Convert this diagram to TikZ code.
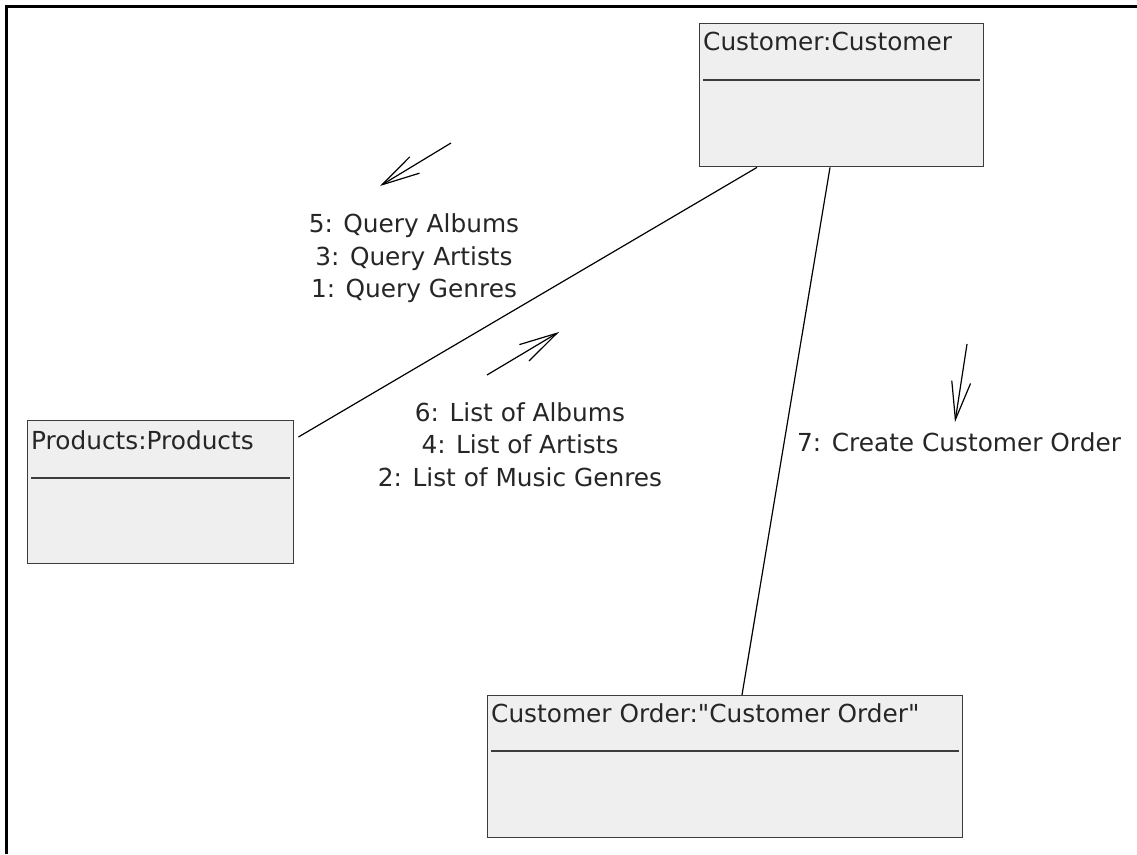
\documentclass[tikz,border=0pt]{standalone}
\usepackage{fontspec}
\newfontfamily\diafont{DejaVu Sans}
\usetikzlibrary{arrows.meta,calc}
\definecolor{boxfill}{HTML}{EFEFEF}
\definecolor{boxline}{HTML}{3C3C3C}
\tikzset{
  objbox/.style={draw=boxline, fill=boxfill, line width=1.4pt, rectangle, inner sep=0pt, anchor=north west},
  sepline/.style={draw=boxline, line width=1.4pt},
  ttl/.style={inner sep=0pt, anchor=base west, text=black!85, font=\diafont\fontsize{24.8}{30}\selectfont},
  msg/.style={inner sep=0pt, anchor=base, text=black!85, font=\diafont\fontsize{24.8}{30}\selectfont},
  msg7/.style={inner sep=0pt, anchor=base west, text=black!85, font=\diafont\fontsize{24.8}{30}\selectfont},
  link/.style={draw=black, line width=1.2pt},
  msgarrow/.style={draw=black, line width=1.2pt, -{Straight Barb[length=38pt,width=19pt,line width=1.2pt]}},
  frameline/.style={draw=black, line width=2.4pt}
}
\begin{document}
\begin{tikzpicture}[x=1pt,y=-1pt]
\useasboundingbox (0,0) rectangle (1137,854);
\fill[white] (0,0) rectangle (1137,854);
% frame
\coordinate (frTR) at (1137,6.5);
\coordinate (frTL) at (6.5,6.5);
\coordinate (frBL) at (6.5,854);
\draw[frameline] (frTR) -- (frTL) -- (frBL);

% objects
\node[objbox, minimum width=284pt, minimum height=143pt] (cust) at (699,23) {};
\node[ttl] (custT) at (703,50) {Customer:Customer};
\draw[sepline] ($(cust.north west)+(4,57)$) -- ($(cust.north east)+(-4,57)$);

\node[objbox, minimum width=266pt, minimum height=143pt] (prod) at (27,420) {};
\node[ttl] (prodT) at (31,449) {Products:Products};
\draw[sepline] ($(prod.north west)+(4,58)$) -- ($(prod.north east)+(-4,58)$);

\node[objbox, minimum width=475pt, minimum height=142pt] (ord) at (487,695) {};
\node[ttl] (ordT) at (491,722) {Customer Order:"Customer Order"};
\draw[sepline] ($(ord.north west)+(4,56)$) -- ($(ord.north east)+(-4,56)$);

% links
\coordinate (c1) at ($(cust.south west)+(58,0)$);
\coordinate (p1) at ($(prod.north east)+(4,17)$);
\draw[link] (c1) -- (p1);
\coordinate (c2) at ($(cust.south west)+(131,0)$);
\coordinate (o1) at ($(ord.north west)+(255,0)$);
\draw[link] (c2) -- (o1);

% message arrows
\coordinate (a1s) at (451,143);
\coordinate (a1e) at (380,186);
\draw[msgarrow] (a1s) -- (a1e);
\coordinate (a2s) at (487,375);
\coordinate (a2e) at (559,332);
\draw[msgarrow] (a2s) -- (a2e);
\coordinate (a3s) at (967,344);
\coordinate (a3e) at (955,422);
\draw[msgarrow] (a3s) -- (a3e);

% message labels
\node[msg] (m5) at (414,232) {5: Query Albums};
\node[msg] (m3) at (414,265) {3: Query Artists};
\node[msg] (m1) at (414,297) {1: Query Genres};
\node[msg] (m6) at (520,421) {6: List of Albums};
\node[msg] (m4) at (520,453) {4: List of Artists};
\node[msg] (m2) at (520,486) {2: List of Music Genres};
\node[msg7] (m7) at (797,451) {7: Create Customer Order};
\end{tikzpicture}
\end{document}
